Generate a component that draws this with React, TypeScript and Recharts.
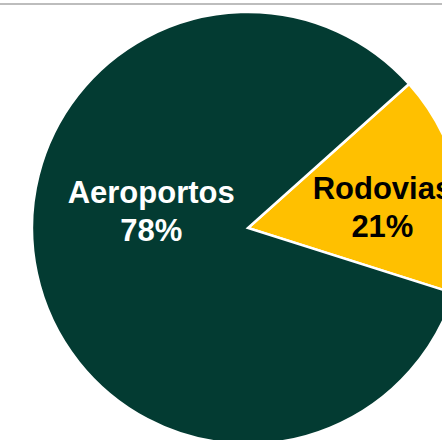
import { Cell, Pie, PieChart } from "recharts";

// slice shares as drawn (angles), labels as printed
const categories = ["Rodovias", "Aeroportos"];
const shares = [16.5, 83.5];
const percentLabels = ["21%", "78%"];

const colors = ["#FFC000", "#033B32"];
const textColors = ["#000000", "#FFFFFF"];
// where each label sits: angle in degrees and fraction of the radius
const labelSpots = [
  { angle: 9, r: 0.63 },
  { angle: 170, r: 0.455 }
];

const data = categories.map((name, i) => ({ name, value: shares[i] }));

const RAD = Math.PI / 180;

function renderLabel(props: any) {
  const { cx, cy, outerRadius, index } = props;
  const spot = labelSpots[index];
  const r = outerRadius * spot.r;
  const x = cx + r * Math.cos(spot.angle * RAD);
  const y = cy - r * Math.sin(spot.angle * RAD);
  return (
    <text
      x={x}
      y={y}
      fill={textColors[index]}
      textAnchor="middle"
      fontFamily="'Liberation Sans', Arial, sans-serif"
      fontWeight="bold"
      fontSize={31}
    >
      <tspan x={x} dy={-8}>
        {categories[index]}
      </tspan>
      <tspan x={x} dy={38}>
        {percentLabels[index]}
      </tspan>
    </text>
  );
}

export default function App() {
  return (
    <div
      style={{
        position: "fixed",
        left: 0,
        top: 0,
        width: 442,
        height: 440,
        background: "#fff",
        overflow: "hidden"
      }}
    >
      <div
        style={{
          position: "absolute",
          left: 0,
          top: 3,
          width: 442,
          height: 2,
          background: "#BDBDBD"
        }}
      />
      <PieChart width={442} height={440} margin={{ top: 0, right: 0, bottom: 0, left: 0 }}>
        <Pie
          data={data}
          dataKey="value"
          cx={248}
          cy={228}
          outerRadius={216}
          startAngle={41.8}
          endAngle={-318.2}
          stroke="#FFFFFF"
          strokeWidth={2.5}
          label={renderLabel}
          labelLine={false}
          isAnimationActive={false}
        >
          {data.map((d, i) => (
            <Cell key={d.name} fill={colors[i]} />
          ))}
        </Pie>
      </PieChart>
    </div>
  );
}
